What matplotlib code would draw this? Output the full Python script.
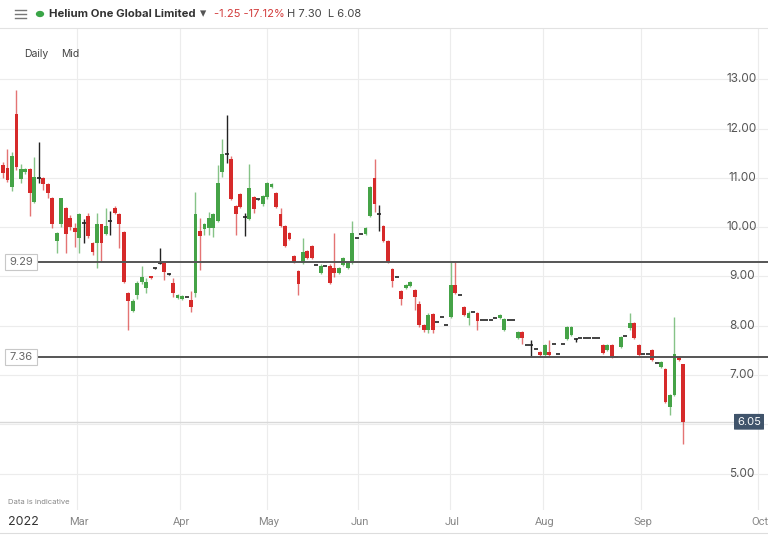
import matplotlib.pyplot as plt
import matplotlib.transforms as mtransforms
from matplotlib.patches import Rectangle, FancyBboxPatch, Circle
from matplotlib.lines import Line2D

plt.rcParams['font.family'] = ['Inter', 'DejaVu Sans']

# daily candles, trading-day index from the first visible session (early Feb 2022)
day = list(range(153))

opens = [11.26, 11.20, 10.81, 12.29, 10.98, 11.12, 11.18, 10.51, 11.00, 11.00,
         10.87, 10.59, 9.72, 10.06, 10.39, 10.18, 9.98, 9.78, 10.08, 10.22,
         9.68, 9.68, 10.06, 9.86, 10.12, 10.39, 10.26, 9.90, 8.66, 8.30,
         8.62, 8.88, 8.76, 9.00, 9.17, 9.27, 9.27, 9.05, 8.86, 8.56,
         8.54, 8.58, 8.52, 8.66, 9.92, 9.96, 9.98, 9.98, 10.12, 11.12,
         11.48, 11.38, 10.43, 10.67, 10.20, 10.16, 10.61, 10.57, 10.47, 10.61,
         10.81, 10.69, 10.26, 10.02, 9.88, 9.41, 9.11, 9.27, 9.51, 9.61,
         9.23, 9.07, 9.21, 9.21, 9.17, 9.07, 9.23, 9.17, 9.27, 9.78,
         9.86, 9.86, 10.22, 10.99, 10.26, 10.02, 9.72, 9.15, 8.99, 8.70,
         8.76, 8.80, 8.72, 8.44, 8.01, 7.91, 8.24, 8.07, 8.17, 8.01,
         8.17, 8.82, 8.62, 8.38, 8.15, 8.28, 8.26, 8.11, 8.11, 8.11,
         8.15, 8.15, 7.91, 8.11, 8.11, 7.75, 7.87, 7.61, 7.61, 7.52,
         7.46, 7.40, 7.46, 7.63, 7.42, 7.63, 7.73, 7.81, 7.73, 7.75,
         7.75, 7.75, 7.75, 7.75, 7.61, 7.51, 7.61, 7.36, 7.57, 7.79,
         7.95, 8.05, 7.61, 7.42, 7.42, 7.51, 7.24, 7.16, 7.12, 6.35,
         6.59, 7.36, 7.22]
highs = [11.32, 11.58, 11.52, 12.78, 11.28, 11.20, 11.20, 11.42, 11.72, 11.02,
         10.90, 10.61, 9.90, 10.60, 10.41, 10.25, 10.08, 10.28, 10.16, 10.28,
         9.70, 10.28, 10.06, 10.39, 10.32, 10.43, 10.28, 9.92, 8.68, 8.55,
         8.90, 9.21, 8.97, 9.01, 9.18, 9.57, 9.27, 9.06, 8.97, 8.64,
         8.62, 8.58, 8.70, 10.71, 10.18, 10.08, 10.31, 10.28, 11.26, 11.78,
         12.27, 11.44, 10.45, 10.69, 10.28, 11.28, 10.63, 10.58, 10.65, 10.91,
         10.89, 10.71, 10.39, 10.04, 9.90, 9.43, 9.13, 9.78, 9.53, 9.63,
         9.23, 9.25, 9.21, 9.25, 9.88, 9.19, 9.39, 9.31, 10.12, 9.78,
         9.86, 10.00, 10.83, 11.38, 10.45, 10.04, 9.74, 9.17, 8.99, 8.72,
         8.84, 8.90, 8.74, 8.50, 8.03, 8.26, 8.26, 8.07, 8.17, 8.01,
         9.29, 9.29, 8.62, 8.40, 8.30, 8.28, 8.28, 8.11, 8.11, 8.11,
         8.15, 8.24, 8.15, 8.11, 8.11, 7.89, 7.89, 7.61, 7.71, 7.52,
         7.48, 7.63, 7.71, 7.63, 7.42, 7.63, 7.99, 7.99, 7.75, 7.75,
         7.75, 7.75, 7.75, 7.75, 7.63, 7.63, 7.63, 7.36, 7.79, 7.79,
         8.26, 8.07, 7.63, 7.42, 7.42, 7.53, 7.24, 7.28, 7.14, 6.61,
         8.17, 7.38, 7.22]
lows = [11.00, 10.91, 10.73, 11.16, 10.90, 11.08, 10.22, 10.49, 10.89, 10.75,
        10.59, 9.98, 9.47, 10.00, 9.47, 9.95, 9.59, 9.47, 9.68, 9.78,
        9.43, 9.17, 9.29, 9.84, 9.84, 10.26, 9.57, 8.86, 7.91, 8.28,
        8.55, 8.84, 8.66, 8.95, 9.16, 9.25, 8.92, 9.03, 8.58, 8.54,
        8.52, 8.58, 8.28, 8.58, 9.13, 9.84, 9.84, 9.80, 10.10, 11.01,
        11.30, 10.55, 9.84, 10.39, 9.82, 10.14, 10.28, 10.56, 10.43, 10.57,
        10.79, 10.39, 10.00, 9.59, 9.74, 9.27, 8.62, 9.25, 9.35, 9.35,
        9.23, 9.05, 9.21, 8.84, 8.99, 9.05, 9.21, 9.15, 9.25, 9.78,
        9.86, 9.84, 10.20, 10.30, 9.92, 9.70, 9.27, 8.78, 8.99, 8.42,
        8.74, 8.78, 8.32, 7.97, 7.87, 7.85, 7.85, 8.07, 8.17, 8.01,
        8.15, 8.64, 8.62, 8.20, 8.01, 8.28, 7.91, 8.11, 8.11, 8.11,
        8.15, 8.13, 7.89, 8.11, 8.11, 7.73, 7.63, 7.61, 7.36, 7.52,
        7.36, 7.38, 7.38, 7.63, 7.42, 7.63, 7.71, 7.79, 7.67, 7.75,
        7.75, 7.75, 7.75, 7.75, 7.42, 7.49, 7.34, 7.36, 7.55, 7.79,
        7.91, 7.73, 7.38, 7.42, 7.42, 7.28, 7.24, 7.14, 6.43, 6.19,
        6.57, 7.28, 5.60]
closes = [11.10, 10.95, 11.44, 11.22, 11.18, 11.18, 10.69, 11.01, 11.00, 10.87,
          10.69, 10.06, 9.88, 10.59, 9.86, 10.00, 9.90, 10.26, 10.08, 9.82,
          9.49, 10.06, 9.68, 10.02, 10.12, 10.28, 10.06, 8.88, 8.50, 8.50,
          8.86, 8.99, 8.88, 8.96, 9.17, 9.27, 9.09, 9.05, 8.66, 8.62,
          8.60, 8.58, 8.38, 10.26, 9.82, 10.06, 10.18, 10.26, 10.89, 11.48,
          11.48, 10.57, 10.26, 10.41, 10.20, 10.79, 10.37, 10.57, 10.63, 10.89,
          10.87, 10.41, 10.02, 9.61, 9.76, 9.29, 8.84, 9.49, 9.37, 9.37,
          9.23, 9.21, 9.21, 8.86, 9.07, 9.17, 9.37, 9.29, 9.88, 9.78,
          9.86, 9.98, 10.81, 10.47, 10.26, 9.72, 9.29, 8.90, 8.99, 8.54,
          8.82, 8.88, 8.58, 8.01, 7.91, 8.22, 7.91, 8.07, 8.17, 8.01,
          8.82, 8.66, 8.62, 8.22, 8.26, 8.28, 8.09, 8.11, 8.11, 8.11,
          8.15, 8.22, 8.13, 8.11, 8.11, 7.87, 7.75, 7.61, 7.61, 7.52,
          7.40, 7.61, 7.40, 7.63, 7.42, 7.63, 7.97, 7.97, 7.73, 7.75,
          7.75, 7.75, 7.75, 7.75, 7.44, 7.61, 7.36, 7.36, 7.77, 7.79,
          8.05, 7.75, 7.40, 7.42, 7.42, 7.30, 7.24, 7.26, 6.45, 6.59,
          7.42, 7.30, 6.05]

price_ticks = [5, 6, 7, 8, 9, 10, 11, 12, 13]
month_names = ['Mar', 'Apr', 'May', 'Jun', 'Jul', 'Aug', 'Sep', 'Oct']
month_pos = [16.5, 39.5, 59.0, 79.3, 99.9, 120.6, 142.5, 168.6]
levels = [9.29, 7.36]
last_price = 6.05

green = '#45a347'
red = '#d62a2a'
grid_c = '#ececec'

fig = plt.figure(figsize=(7.68, 5.42), dpi=100)
ax = fig.add_axes([0, 32 / 542, 1, 482 / 542])
ax.set_xlim(-0.67, 170.9)
ax.set_ylim(4.26, 14.04)
ax.axis('off')

bl = mtransforms.blended_transform_factory(ax.transAxes, ax.transData)

# grid
for p in price_ticks:
    ax.axhline(p, color=grid_c, lw=0.8, zorder=0)
for m in month_pos:
    ax.axvline(m, color=grid_c, lw=0.8, zorder=0)

# candles
for d, o, h, l, c in zip(day, opens, highs, lows, closes):
    if abs(c - o) < 0.005:
        ax.vlines(d, l, h, colors='#222222', lw=1, zorder=2)
        ax.hlines(o, d - 0.45, d + 0.45, colors='#222222', lw=1.2, zorder=3)
        continue
    col = green if c > o else red
    ax.vlines(d, l, h, colors=col, lw=1, alpha=0.65, zorder=2)
    ax.bar(d, abs(c - o), bottom=min(o, c), width=0.85, color=col, lw=0, zorder=3)

# horizontal levels with labels on the left
for lv in levels:
    ax.plot([37 / 768, 1], [lv, lv], transform=bl, color='#555555', lw=1.4, zorder=4)
    ax.add_patch(Rectangle((5 / 768, lv - 0.165), 32 / 768, 0.33, transform=bl,
                           fc='white', ec='#c8c8c8', lw=0.8, zorder=5))
    ax.text(21 / 768, lv, f'{lv:.2f}', transform=bl, ha='center', va='center',
            fontsize=8, color='#666666', zorder=6)

# last price line and tag
ax.plot([0, 733 / 768], [last_price, last_price], transform=bl, color='#d8d8d8', lw=1, zorder=1)
ax.add_patch(FancyBboxPatch((734 / 768, last_price - 0.16), 30 / 768, 0.32, transform=bl,
                            boxstyle='round,pad=0,rounding_size=0.004',
                            fc='#40546b', ec='none', zorder=5))
ax.text(749 / 768, last_price, f'{last_price:.2f}', transform=bl, ha='center', va='center',
        fontsize=8, color='white', zorder=6)

# right price labels
for p in price_ticks:
    if abs(p - last_price) < 0.3:
        continue
    ax.text(742 / 768, p, f'{p:.2f}', transform=bl, ha='center', va='center',
            fontsize=8.5, color='#555555')

# month labels under the plot
for m, name in zip(month_pos, month_names):
    fig.text((ax.transData.transform((m, 0))[0] + 2) / 768, 1 - 522 / 542, name,
             ha='center', va='center', fontsize=8, color='#888888', family='Roboto')
fig.text(8 / 768, 1 - 522 / 542, '2022', ha='left', va='center', fontsize=9, color='#333333')
fig.text(8 / 768, 1 - 502 / 542, 'Data is indicative', ha='left', va='center',
         fontsize=5.5, color='#888888')
fig.add_artist(Line2D([0, 1], [1 - 533 / 542, 1 - 533 / 542], color='#dddddd', lw=0.8))

# header
fig.add_artist(Line2D([0, 1], [1 - 28 / 542, 1 - 28 / 542], color='#e2e2e2', lw=0.8))
for yy in [10, 14, 18]:
    fig.add_artist(Line2D([15 / 768, 26 / 768], [1 - yy / 542, 1 - yy / 542], color='#777777', lw=1))
fig.add_artist(Circle((40 / 768, 1 - 14 / 542), 0.0045, transform=fig.transFigure,
                      color='#3aa547'))
fig.text(49 / 768, 1 - 14 / 542, 'Helium One Global Limited', ha='left', va='center',
         fontsize=8.2, fontweight='bold', color='#333333')
fig.text(203 / 768, 1 - 14 / 542, '▾', ha='center', va='center', fontsize=9,
         color='#555555', family='DejaVu Sans')
fig.text(214 / 768, 1 - 14 / 542, '-1.25 -17.12%', ha='left', va='center',
         fontsize=8, color='#d23b3b')
fig.text(287 / 768, 1 - 14 / 542, 'H 7.30  L 6.08', ha='left', va='center',
         fontsize=8, color='#444444')
fig.text(24 / 768, 1 - 54 / 542, 'Daily', ha='left', va='center', fontsize=7.5, color='#444444')
fig.text(61 / 768, 1 - 54 / 542, 'Mid', ha='left', va='center', fontsize=7.5, color='#444444')

fig.savefig('out.png', dpi=100)
